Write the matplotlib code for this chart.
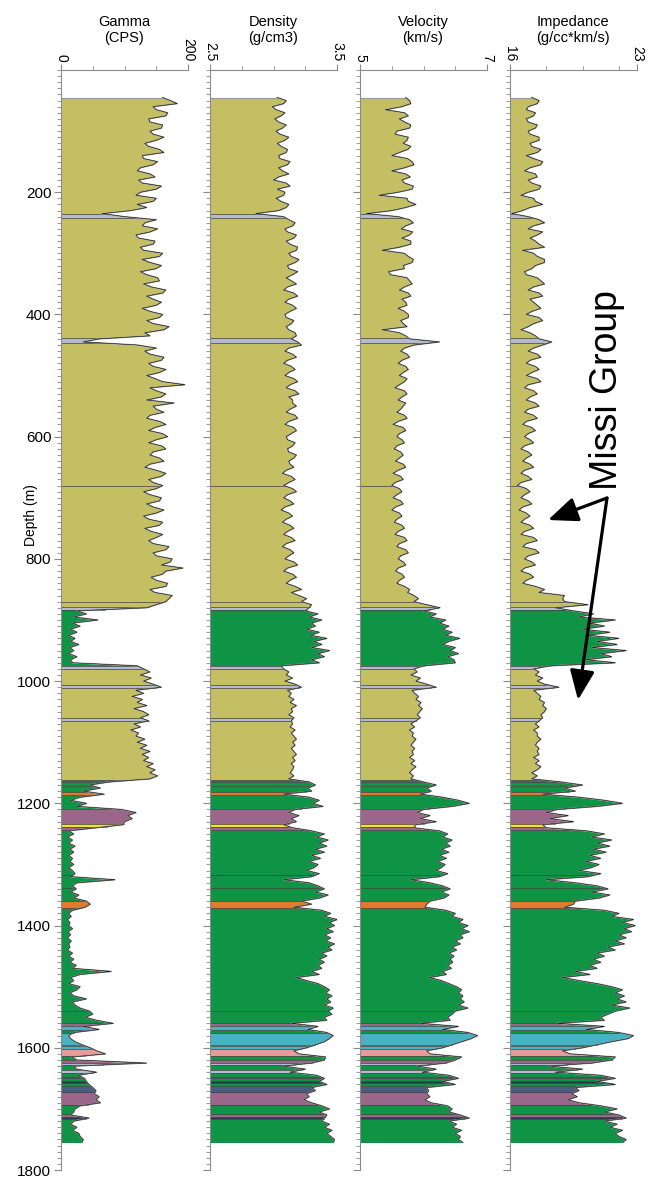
import matplotlib.pyplot as plt
import numpy as np
from matplotlib.patches import FancyArrowPatch
from matplotlib.ticker import MultipleLocator

plt.rcParams['font.family'] = ['Liberation Sans', 'DejaVu Sans']

# sample depths, every 5 m from 45 m to 1755 m
depth = np.arange(45, 1760, 5)

gamma = [
    # 45 - 865 m
    160, 172, 183, 145, 150, 168, 165, 138, 140, 160,
    158, 140, 145, 162, 150, 132, 138, 155, 162, 128,
    130, 152, 145, 125, 120, 140, 148, 122, 128, 158,
    150, 125, 118, 150, 145, 120, 135, 110, 65, 100,
    150, 132, 128, 152, 140, 118, 122, 148, 145, 125,
    130, 160, 155, 128, 140, 158, 150, 125, 135, 152,
    155, 130, 142, 165, 160, 135, 145, 158, 150, 128,
    140, 160, 155, 135, 145, 170, 162, 132, 140, 60,
    35, 120, 150, 132, 140, 162, 158, 138, 145, 165,
    155, 135, 148, 160, 195, 140, 150, 165, 158, 135,
    178, 145, 150, 162, 140, 135, 155, 165, 148, 138,
    160, 168, 150, 138, 158, 165, 145, 140, 155, 162,
    140, 132, 150, 165, 158, 138, 145, 160, 150, 130,
    140, 158, 155, 135, 145, 162, 150, 130, 138, 160,
    155, 132, 142, 160, 150, 138, 145, 170, 165, 145,
    150, 175, 172, 158, 192, 165, 160, 142, 150, 168,
    165, 140, 148, 175, 170,
    # 870 - 1755 m
    165, 150, 135, 25, 40, 20, 58, 18, 30, 15,
    25, 12, 22, 15, 28, 14, 20, 12, 25, 15,
    18, 120, 130, 140, 125, 142, 130, 145, 158, 118,
    130, 112, 128, 120, 135, 115, 130, 138, 125, 138,
    115, 125, 110, 122, 118, 132, 120, 135, 125, 140,
    128, 138, 130, 145, 135, 148, 140, 152, 140, 75,
    45, 62, 35, 68, 30, 15, 40, 25, 95, 118,
    105, 112, 100, 98, 55, 12, 20, 10, 18, 12,
    22, 14, 20, 12, 18, 14, 20, 12, 18, 22,
    15, 85, 25, 18, 24, 15, 28, 20, 40, 46,
    38, 18, 12, 16, 10, 14, 12, 18, 11, 15,
    10, 16, 12, 14, 10, 18, 12, 20, 14, 24,
    18, 79, 30, 15, 20, 12, 30, 25, 14, 20,
    40, 18, 22, 30, 45, 50, 38, 56, 82, 35,
    60, 20, 12, 15, 22, 33, 46, 56, 70, 17,
    25, 134, 20, 25, 56, 27, 37, 40, 44, 50,
    55, 52, 60, 55, 62, 30, 22, 20, 15, 44,
    20, 15, 25, 18, 28, 30, 35, 33,
]

density = [
    3.03, 3.10, 3.08, 2.99, 3.02, 3.09, 3.06, 3.01, 3.04, 3.10,
    3.07, 3.02, 3.05, 3.12, 3.09, 3.03, 3.06, 3.11, 3.10, 3.04,
    3.05, 3.13, 3.11, 3.04, 3.07, 3.12, 3.04, 3.00, 3.10, 3.13,
    3.03, 3.09, 3.08, 3.02, 3.06, 3.12, 3.10, 3.04, 2.86, 3.08,
    3.12, 3.17, 3.15, 3.09, 3.11, 3.18, 3.16, 3.10, 3.13, 3.19,
    3.18, 3.12, 3.14, 3.20, 3.17, 3.11, 3.12, 3.19, 3.15, 3.10,
    3.14, 3.18, 3.11, 3.08, 3.16, 3.19, 3.12, 3.09, 3.15, 3.18,
    3.13, 3.09, 3.10, 3.16, 3.14, 3.10, 3.12, 3.17, 3.18, 3.14,
    3.19, 3.22, 3.12, 3.09, 3.15, 3.18, 3.11, 3.08, 3.14, 3.17,
    3.12, 3.09, 3.16, 3.19, 3.13, 3.10, 3.17, 3.20, 3.12, 3.15,
    3.15, 3.18, 3.13, 3.10, 3.17, 3.19, 3.12, 3.09, 3.16, 3.18,
    3.14, 3.10, 3.11, 3.17, 3.15, 3.11, 3.12, 3.18, 3.16, 3.12,
    3.13, 3.16, 3.10, 3.07, 3.14, 3.17, 3.12, 3.08, 3.15, 3.18,
    3.11, 3.08, 3.13, 3.16, 3.09, 3.06, 3.12, 3.15, 3.10, 3.07,
    3.13, 3.16, 3.11, 3.08, 3.14, 3.17, 3.10, 3.07, 3.13, 3.16,
    3.12, 3.09, 3.16, 3.19, 3.11, 3.08, 3.15, 3.18, 3.13, 3.10,
    3.17, 3.22, 3.14, 3.20, 3.26,
    3.22, 3.30, 3.28, 3.25, 3.35, 3.28, 3.38, 3.30, 3.33, 3.26,
    3.36, 3.29, 3.42, 3.32, 3.38, 3.30, 3.44, 3.35, 3.40, 3.30,
    3.36, 3.06, 3.08, 3.12, 3.10, 3.15, 3.09, 3.17, 3.22, 3.11,
    3.14, 3.12, 3.16, 3.13, 3.18, 3.14, 3.15, 3.12, 3.16, 3.14,
    3.15, 3.13, 3.17, 3.14, 3.16, 3.18, 3.15, 3.17, 3.14, 3.16,
    3.18, 3.15, 3.17, 3.14, 3.16, 3.15, 3.13, 3.16, 3.12, 3.28,
    3.33, 3.27, 3.30, 3.08, 3.28, 3.36, 3.31, 3.39, 3.17, 3.12,
    3.20, 3.14, 3.18, 3.08, 3.15, 3.30, 3.40, 3.34, 3.43, 3.36,
    3.42, 3.33, 3.40, 3.30, 3.37, 3.28, 3.35, 3.32, 3.26, 3.36,
    3.30, 3.08, 3.28, 3.35, 3.40, 3.33, 3.43, 3.36, 3.22, 3.30,
    3.16, 3.38, 3.45, 3.40, 3.50, 3.44, 3.48, 3.42, 3.47, 3.40,
    3.45, 3.41, 3.48, 3.43, 3.46, 3.38, 3.42, 3.36, 3.40, 3.35,
    3.38, 3.30, 3.36, 3.18, 3.26, 3.35, 3.40, 3.44, 3.41, 3.46,
    3.42, 3.45, 3.40, 3.47, 3.43, 3.46, 3.40, 3.42, 3.14, 3.35,
    3.27, 3.42, 3.47, 3.44, 3.40, 3.33, 3.26, 3.16, 3.20, 3.41,
    3.40, 3.30, 3.08, 3.25, 3.13, 3.34, 3.40, 3.36, 3.42, 3.30,
    3.33, 3.26, 3.28, 3.24, 3.30, 3.38, 3.44, 3.36, 3.42, 3.40,
    3.38, 3.44, 3.40, 3.46, 3.42, 3.45, 3.48, 3.47,
]

velocity = [
    5.72, 5.78, 5.80, 5.66, 5.40, 5.70, 5.76, 5.62, 5.70, 5.80,
    5.78, 5.58, 5.55, 5.76, 5.74, 5.68, 5.80, 5.75, 5.62, 5.50,
    5.75, 5.82, 5.85, 5.70, 5.50, 5.72, 5.79, 5.66, 5.70, 5.84,
    5.82, 5.60, 5.30, 5.74, 5.76, 5.88, 5.72, 5.50, 5.10, 5.60,
    5.78, 5.84, 5.72, 5.65, 5.83, 5.78, 5.66, 5.80, 5.80, 5.62,
    5.35, 5.70, 5.76, 5.84, 5.82, 5.68, 5.70, 5.45, 5.48, 5.74,
    5.78, 5.82, 5.70, 5.62, 5.76, 5.80, 5.66, 5.72, 5.74, 5.60,
    5.70, 5.76, 5.76, 5.64, 5.68, 5.74, 5.35, 5.62, 5.72, 5.78,
    6.25, 5.85, 5.70, 5.64, 5.74, 5.78, 5.66, 5.60, 5.72, 5.76,
    5.68, 5.62, 5.74, 5.70, 5.62, 5.55, 5.70, 5.74, 5.66, 5.60,
    5.72, 5.68, 5.64, 5.58, 5.70, 5.74, 5.60, 5.52, 5.68, 5.72,
    5.62, 5.58, 5.66, 5.70, 5.58, 5.54, 5.64, 5.68, 5.62, 5.56,
    5.68, 5.72, 5.60, 5.52, 5.64, 5.68, 5.55, 5.50, 5.62, 5.66,
    5.58, 5.52, 5.64, 5.68, 5.56, 5.50, 5.62, 5.66, 5.58, 5.54,
    5.66, 5.70, 5.60, 5.55, 5.70, 5.74, 5.62, 5.58, 5.72, 5.76,
    5.64, 5.60, 5.68, 5.72, 5.60, 5.56, 5.66, 5.70, 5.62, 5.58,
    5.70, 5.78, 5.75, 5.85, 5.92,
    5.85, 6.05, 6.26, 6.00, 6.20, 6.10, 6.35, 6.25, 6.40, 6.30,
    6.45, 6.35, 6.57, 6.40, 6.30, 6.50, 6.42, 6.55, 6.38, 6.48,
    6.50, 6.00, 5.85, 5.90, 5.80, 5.95, 5.88, 6.05, 6.20, 5.82,
    5.86, 5.92, 5.88, 5.96, 5.92, 5.98, 5.94, 5.90, 5.95, 5.88,
    5.80, 5.86, 5.78, 5.84, 5.82, 5.88, 5.84, 5.80, 5.86, 5.82,
    5.84, 5.78, 5.86, 5.80, 5.88, 5.82, 5.78, 5.84, 5.80, 6.00,
    6.20, 6.05, 6.12, 5.95, 6.30, 6.55, 6.72, 6.45, 6.00, 5.90,
    6.10, 5.95, 6.20, 5.88, 5.85, 6.25, 6.38, 6.30, 6.45, 6.35,
    6.42, 6.28, 6.40, 6.25, 6.36, 6.22, 6.34, 6.28, 6.20, 6.38,
    6.25, 5.80, 6.10, 6.30, 6.42, 6.28, 6.40, 6.32, 6.10, 6.05,
    6.02, 6.35, 6.50, 6.45, 6.62, 6.55, 6.70, 6.60, 6.72, 6.58,
    6.62, 6.50, 6.58, 6.45, 6.52, 6.40, 6.48, 6.42, 6.46, 6.38,
    6.44, 6.30, 6.36, 6.10, 6.28, 6.40, 6.52, 6.60, 6.55, 6.62,
    6.58, 6.64, 6.55, 6.70, 6.50, 6.45, 6.38, 6.42, 5.95, 6.55,
    6.30, 6.70, 6.85, 6.75, 6.60, 6.45, 6.30, 6.05, 6.10, 6.60,
    6.50, 6.35, 5.90, 6.20, 5.98, 6.40, 6.55, 6.30, 6.50, 6.05,
    6.08, 6.05, 6.10, 6.02, 6.12, 6.38, 6.45, 6.40, 6.58, 6.72,
    6.40, 6.52, 6.45, 6.60, 6.50, 6.58, 6.55, 6.62,
]

impedance = [
    17.2, 17.6, 17.5, 17.0, 16.9, 17.4, 17.3, 16.9, 17.0, 17.5,
    17.4, 17.0, 17.1, 17.6, 17.6, 17.1, 17.2, 17.7, 17.5, 16.9,
    17.3, 17.8, 17.7, 17.1, 16.8, 17.4, 17.5, 17.0, 17.2, 17.7,
    17.6, 17.0, 16.6, 17.3, 17.4, 17.8, 17.1, 16.7, 16.1, 17.0,
    17.6, 17.9, 17.3, 17.0, 17.8, 17.5, 17.1, 17.4, 17.6, 17.9,
    16.7, 17.3, 17.5, 17.9, 17.9, 17.4, 17.2, 16.8, 16.9, 17.5,
    17.7, 17.9, 17.3, 17.0, 17.6, 17.8, 17.1, 17.3, 17.5, 17.7,
    17.2, 16.9, 17.6, 17.8, 17.3, 17.0, 16.6, 17.1, 17.4, 17.6,
    18.3, 17.8, 17.3, 17.0, 17.5, 17.7, 17.1, 16.9, 17.4, 17.6,
    17.2, 16.9, 17.5, 17.7, 17.0, 16.8, 17.3, 17.5, 17.1, 16.9,
    17.4, 17.6, 17.0, 16.8, 17.3, 17.5, 16.9, 16.7, 17.2, 17.4,
    17.0, 16.8, 17.1, 17.3, 16.8, 16.6, 17.0, 17.2, 16.9, 16.7,
    17.1, 17.3, 16.8, 16.6, 17.0, 17.2, 16.6, 16.4, 16.9, 17.1,
    16.8, 16.6, 17.0, 17.2, 16.7, 16.5, 16.9, 17.1, 16.8, 16.6,
    17.1, 17.3, 16.8, 16.6, 17.3, 17.5, 16.9, 16.7, 17.4, 17.6,
    17.0, 16.8, 17.2, 17.4, 16.8, 16.6, 17.1, 17.3, 16.9, 16.7,
    17.4, 17.9, 17.6, 19.0, 18.9,
    19.0, 20.3, 18.5, 19.5, 20.6, 19.8, 21.8, 20.4, 21.2, 20.0,
    21.5, 20.3, 22.0, 20.8, 21.9, 20.5, 22.4, 21.0, 21.6, 20.2,
    21.8, 18.2, 17.3, 17.6, 17.4, 17.8, 17.5, 17.9, 18.7, 17.3,
    17.5, 17.7, 17.6, 17.9, 17.8, 18.0, 17.9, 17.7, 17.8, 17.6,
    17.4, 17.6, 17.3, 17.5, 17.5, 17.7, 17.5, 17.4, 17.6, 17.5,
    17.6, 17.3, 17.6, 17.4, 17.7, 17.5, 17.2, 17.5, 17.2, 18.8,
    20.0, 19.0, 19.6, 17.8, 19.8, 21.2, 22.2, 20.8, 18.6, 18.0,
    19.2, 18.2, 19.5, 17.8, 18.0, 20.2, 21.2, 20.5, 21.6, 20.8,
    21.5, 20.6, 21.3, 20.4, 21.0, 20.2, 20.9, 20.5, 19.8, 21.0,
    20.3, 18.0, 19.6, 20.8, 21.4, 20.5, 21.5, 20.9, 19.6, 19.5,
    19.0, 21.2, 22.0, 21.6, 22.8, 22.2, 22.9, 22.3, 22.7, 22.0,
    22.4, 21.8, 22.3, 21.4, 21.8, 20.8, 21.2, 20.6, 21.0, 20.4,
    20.8, 19.6, 20.4, 18.9, 19.8, 20.8, 21.6, 22.2, 21.8, 22.3,
    21.9, 22.4, 21.6, 22.6, 21.8, 21.4, 21.0, 21.2, 18.6, 21.2,
    20.2, 22.0, 22.8, 22.5, 21.6, 20.8, 20.0, 18.9, 19.3, 21.8,
    21.6, 20.5, 18.2, 20.0, 18.5, 21.0, 21.8, 20.8, 21.8, 19.6,
    19.8, 19.4, 19.7, 19.2, 19.8, 21.0, 21.9, 21.2, 22.0, 22.4,
    21.2, 21.9, 21.5, 22.2, 21.8, 22.0, 22.4, 22.2,
]

# lithology layers (boundaries in m, one colour name per layer)
layer_bounds = [45, 236, 242, 439, 447, 681, 871, 879, 883, 975,
                980, 1006, 1011, 1061, 1065, 1162, 1165, 1172, 1181, 1187,
                1209, 1233, 1238, 1244, 1318, 1338, 1360, 1372, 1540, 1560,
                1564, 1571, 1575, 1595, 1597, 1602, 1613, 1620, 1625, 1628,
                1636, 1641, 1647, 1650, 1655, 1658, 1663, 1673, 1693, 1709,
                1713, 1716, 1755]
layer_litho = ['olive', 'lav', 'olive', 'lav', 'olive', 'olive', 'olive', 'lav', 'green', 'lav',
               'olive', 'lav', 'olive', 'lav', 'olive', 'teal', 'green', 'green', 'orange', 'green',
               'purple', 'yellow', 'purple', 'green', 'green', 'green', 'orange', 'green', 'green', 'purple',
               'cyan', 'green', 'cyan', 'lav', 'cyan', 'pink', 'green', 'purple', 'lav', 'green',
               'lav', 'green', 'purple', 'green', 'dark', 'green', 'slate', 'purple', 'green', 'purple',
               'dark', 'green']

litho_colors = {'olive': '#c4bf62', 'green': '#0e9444', 'lav': '#b5bad3', 'orange': '#e07a2e',
                'purple': '#9a6689', 'yellow': '#f2e526', 'cyan': '#48b2c4', 'pink': '#e99a9a',
                'slate': '#4a5c80', 'teal': '#2e6e73', 'dark': '#2f3650'}

tracks = [
    ('Gamma\n(CPS)', gamma, 0, 200, ['0', '200'], 50),
    ('Density\n(g/cm3)', density, 2.5, 3.5, ['2.5', '3.5'], 0.25),
    ('Velocity\n(km/s)', velocity, 5, 7, ['5', '7'], 0.5),
    ('Impedance\n(g/cc*km/s)', impedance, 16, 23, ['16', '23'], 2),
]
track_left_px = [61, 210, 360, 510]

W, H = 650, 1180
fig = plt.figure(figsize=(W / 100, H / 100), dpi=100)
ax_top, ax_bot = 70, 1170

for i, (title, vals, x0, x1, xlabs, minor) in enumerate(tracks):
    left = track_left_px[i]
    ax = fig.add_axes([left / W, 1 - ax_bot / H, 127 / W, (ax_bot - ax_top) / H])
    v = np.array(vals, dtype=float)

    for j, litho in enumerate(layer_litho):
        t, b = layer_bounds[j], layer_bounds[j + 1]
        inside = (depth > t) & (depth < b)
        ys = np.concatenate([[t], depth[inside], [b]])
        xs = np.concatenate([[np.interp(t, depth, v)], v[inside], [np.interp(b, depth, v)]])
        ax.fill_betweenx(ys, x0, xs, color=litho_colors[litho], lw=0)
        if j > 0:
            ax.plot([x0, xs[0]], [t, t], color='#3a3a3a', lw=0.5)
    ax.plot([x0, v[0]], [depth[0], depth[0]], color='#999999', lw=0.8)
    ax.plot(v, depth, color='#9a9a9a', lw=1.0)
    ax.plot(v, depth, color='black', lw=0.35)

    ax.set_xlim(x0, x1)
    ax.set_ylim(1800, 0)
    for s in ['right', 'bottom']:
        ax.spines[s].set_visible(False)
    for s in ['left', 'top']:
        ax.spines[s].set_color('#8a8a8a')
        ax.spines[s].set_linewidth(0.8)
    ax.xaxis.set_ticks_position('top')
    ax.set_xticks([x0, x1])
    ax.set_xticklabels(xlabs, rotation=-90, fontsize=10)
    ax.xaxis.set_minor_locator(MultipleLocator(minor))
    ax.tick_params(axis='x', which='both', colors='#8a8a8a', labelcolor='black', pad=2)
    ax.tick_params(axis='x', which='major', length=4)
    ax.tick_params(axis='x', which='minor', length=3)
    ax.set_yticks(np.arange(200, 1801, 200))
    ax.yaxis.set_minor_locator(MultipleLocator(10))
    ax.tick_params(axis='y', which='major', length=5, colors='#8a8a8a', labelcolor='black',
                   labelsize=11, pad=2)
    ax.tick_params(axis='y', which='minor', length=3, colors='#8a8a8a')
    if i > 0:
        ax.set_yticklabels([])
    ax.patch.set_alpha(0)
    fig.text((left + 63) / W, 1 - 30 / H, title, ha='center', va='center', fontsize=10.5,
             linespacing=1.15)


def fpx(x, y):
    return (x / W, 1 - y / H)


fig.text(*fpx(31, 515), 'Depth (m)', rotation=90, ha='center', va='center', fontsize=10)
fig.text(607 / W, 1 - 390 / H, 'Missi Group', rotation=90, ha='center', va='center',
         fontsize=27)
for tip in [(548, 520), (578, 700)]:
    arr = FancyArrowPatch(fpx(607, 498), fpx(*tip), transform=fig.transFigure,
                          arrowstyle='-|>,head_length=1.2,head_width=0.5', mutation_scale=15,
                          color='black', lw=2.3, shrinkA=0, shrinkB=0)
    fig.add_artist(arr)

fig.savefig('out.png', dpi=100)
